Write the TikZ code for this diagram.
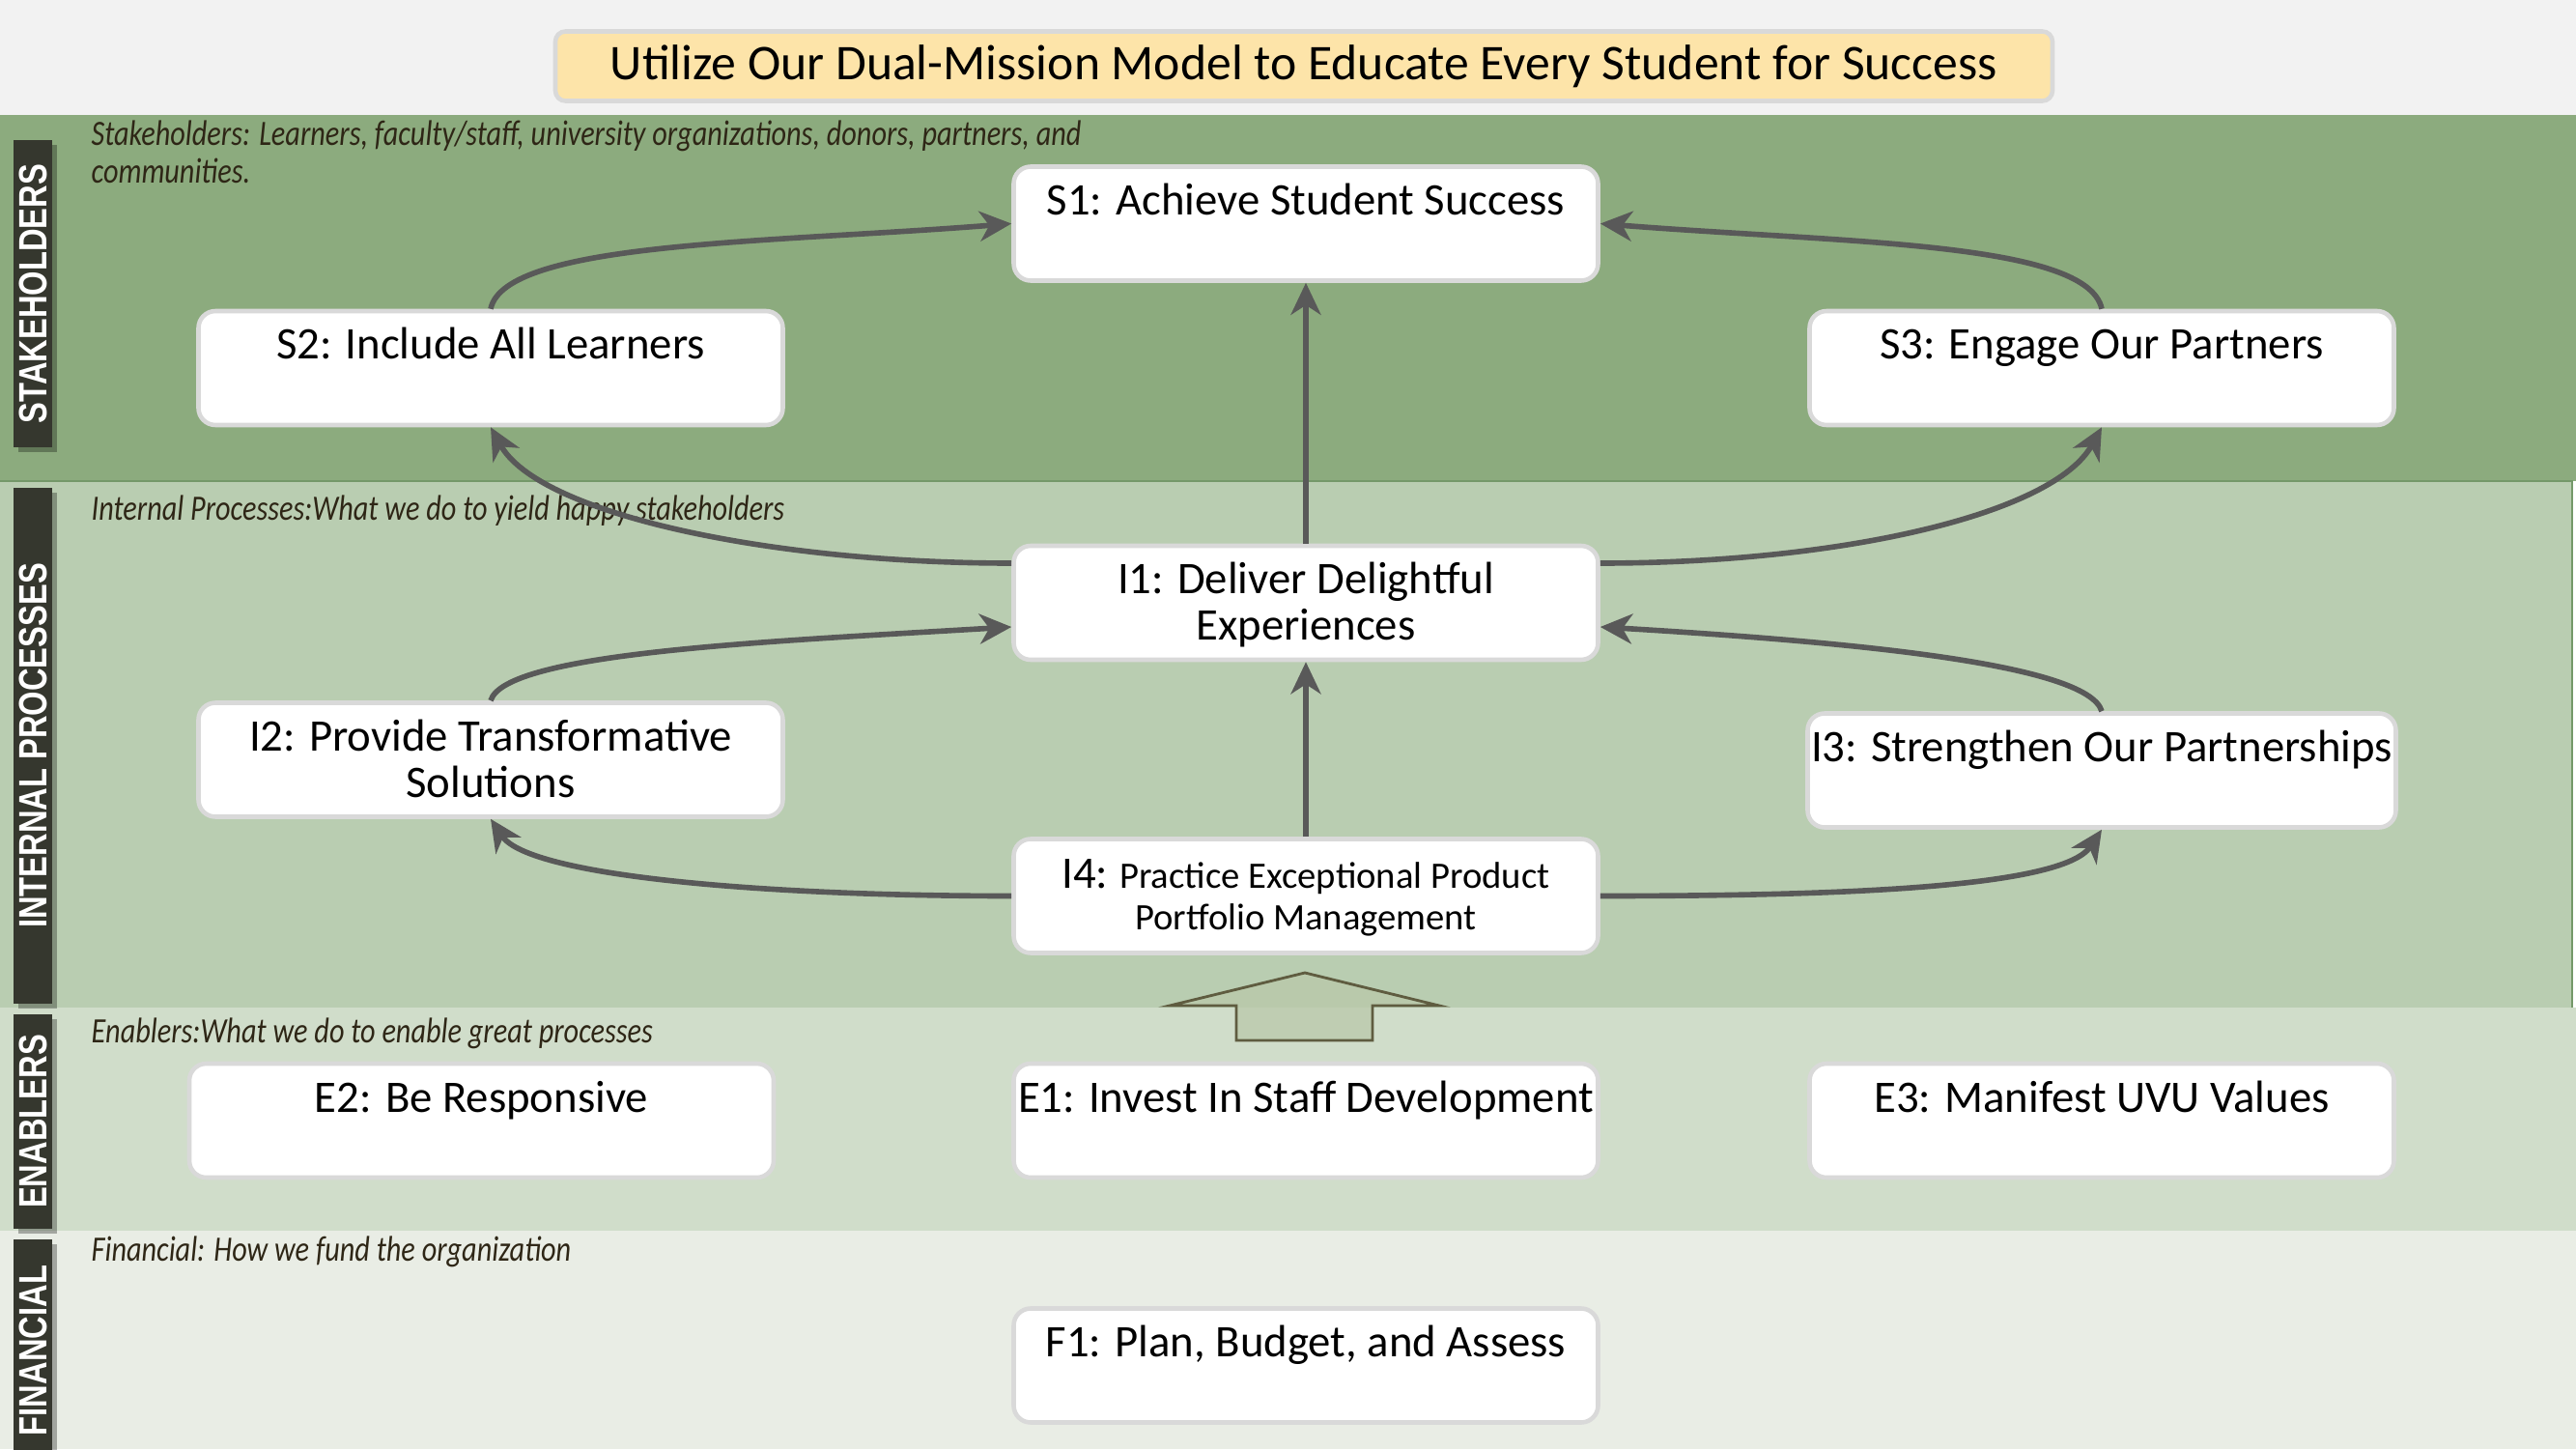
\documentclass[tikz,border=0pt]{standalone}
\usepackage{fontspec}
\setmainfont{Carlito}
\newfontfamily\barfont{Liberation Sans}
\usepackage{tikz}
\usetikzlibrary{arrows.meta,positioning,shadows}
\definecolor{pagebg}{HTML}{F2F2F2}
\definecolor{stakebg}{HTML}{8CAB7E}
\definecolor{internbg}{HTML}{B9CDB1}
\definecolor{internline}{HTML}{749869}
\definecolor{enablebg}{HTML}{D0DDCA}
\definecolor{financebg}{HTML}{E9EDE5}
\definecolor{barfill}{HTML}{35372E}
\definecolor{titlefill}{HTML}{FDE4A9}
\definecolor{boxline}{HTML}{D9D9D9}
\definecolor{linkgray}{HTML}{595959}
\definecolor{notetext}{HTML}{2E2616}
\definecolor{blockfill}{HTML}{BAC8AA}
\definecolor{blockline}{HTML}{5F5C40}
\newcommand{\lanetext}[1]{\scalebox{0.82}[1]{\begin{tabular}{@{}l@{}}#1\end{tabular}}}
\newcommand{\barlabel}[1]{\scalebox{1}[1.25]{#1}}
\tikzset{
  lanebar/.style={fill=barfill, text=white, rotate=90, inner sep=0pt, minimum height=0.40cm,
    font=\barfont\bfseries\fontsize{9.3}{11}\selectfont,
    drop shadow={shadow xshift=0.5mm, shadow yshift=-0.5mm, fill=black, opacity=0.3}},
  lanenote/.style={anchor=west, inner sep=0pt, text=notetext, font=\itshape\fontsize{10.5}{11}\selectfont},
  banner/.style={draw=boxline, line width=1.3pt, fill=titlefill, rounded corners=3pt, minimum width=15.5cm, minimum height=0.72cm, font=\fontsize{14.7}{16}\selectfont},
  goal/.style={draw=boxline, line width=1.3pt, fill=white, rounded corners=5pt, minimum width=6.05cm, minimum height=1.18cm, align=center, inner sep=1pt, font=\fontsize{13.3}{13.7}\selectfont, text height=0.35cm, text depth=0.53cm},
  goal2/.style={goal, text height=0.94cm, text depth=0.16cm},
  link/.style={-{Stealth[length=3.3mm, width=3.1mm, inset=1mm]}, line width=1.6pt, draw=linkgray},
  blockarrow/.style={fill=blockfill, fill opacity=0.75, draw=blockline, line width=0.8pt, line join=miter}
}

\begin{document}
\begin{tikzpicture}[x=1cm,y=1cm]
  \useasboundingbox (0,0) rectangle (26.67,15);
  \clip (0,0) rectangle (26.67,15);

  \fill[pagebg] (0,13.81) rectangle (26.67,15);
  \fill[stakebg] (0,10.02) rectangle (26.67,13.81);
  \filldraw[fill=internbg, draw=internline, line width=0.6pt] (-0.1,4.57) -- (-0.1,10.02) -- (26.63,10.02) -- (26.63,4.57);
  \fill[enablebg] (0,2.26) rectangle (26.67,4.57);
  \fill[financebg] (0,0) rectangle (26.67,2.26);

  \node[lanebar, minimum width=3.18cm] (barS) at (0.34,11.96) {\barlabel{STAKEHOLDERS}};
  \node[lanebar, minimum width=5.34cm] (barI) at (0.34,7.28) {\barlabel{INTERNAL PROCESSES}};
  \node[lanebar, minimum width=2.22cm] (barE) at (0.34,3.39) {\barlabel{ENABLERS}};
  \node[lanebar, minimum width=2.30cm] (barF) at (0.34,1.02) {\barlabel{FINANCIAL}};

  \node[lanenote] (noteS) at (0.94,13.375) {\lanetext{Stakeholders: Learners, faculty/staff, university organizations, donors, partners, and\\communities.}};
  \node[lanenote] (noteI) at (0.94,9.69) {\lanetext{Internal Processes:What we do to yield happy stakeholders}};
  \node[lanenote] (noteE) at (0.94,4.28) {\lanetext{Enablers:What we do to enable great processes}};
  \node[lanenote] (noteF) at (0.94,2.02) {\lanetext{Financial: How we fund the organization}};

  \node[banner] (title) at (13.50,14.315) {Utilize Our Dual-Mission Model to Educate Every Student for Success};

  \node[goal] (S1) at (13.52,12.685) {S1: Achieve Student Success};
  \node[goal] (S2) at (5.08,11.19) {S2: Include All Learners};
  \node[goal] (S3) at (21.76,11.19) {S3: Engage Our Partners};

  \node[goal2] (I1) at (13.52,8.76) {I1: Deliver Delightful\\Experiences};
  \node[goal2] (I2) at (5.08,7.135) {I2: Provide Transformative\\Solutions};
  \node[goal] (I3) at (21.76,7.025) {I3: Strengthen Our Partnerships};
  \node[goal2, text height=0.89cm, text depth=0.20cm, font=\fontsize{11}{12}\selectfont] (I4) at (13.52,5.725)
    {{\fontsize{13.3}{13.7}\selectfont I4:} Practice Exceptional Product\\Portfolio Management};

  \node[goal] (E2) at (4.985,3.40) {E2: Be Responsive};
  \node[goal] (E1) at (13.52,3.40) {E1: Invest In Staff Development};
  \node[goal] (E3) at (21.76,3.40) {E3: Manifest UVU Values};

  \node[goal] (F1) at (13.52,0.865) {F1: Plan, Budget, and Assess};

  \draw[link] (S2.north) .. controls +(0.15,0.7) and +(-2.5,-0.2) .. (S1.west);
  \draw[link] (S3.north) .. controls +(-0.15,0.7) and +(2.5,-0.2) .. (S1.east);
  \draw[link] (I1.north) -- (S1.south);
  \draw[link] ([yshift=4.1mm]I1.west) .. controls +(-2.5,0) and +(0.5,-0.9) .. (S2.south);
  \draw[link] ([yshift=4.1mm]I1.east) .. controls +(2.5,0) and +(-0.5,-0.9) .. (S3.south);
  \draw[link] (I2.north) .. controls +(0.15,0.5) and +(-2.5,-0.15) .. ([yshift=-2.5mm]I1.west);
  \draw[link] (I3.north) .. controls +(-0.15,0.5) and +(2.5,-0.15) .. ([yshift=-2.5mm]I1.east);
  \draw[link] (I4.north) -- (I1.south);
  \draw[link] (I4.west) .. controls +(-2.5,0) and +(0.4,-0.6) .. (I2.south);
  \draw[link] (I4.east) .. controls +(2.5,0) and +(-0.4,-0.6) .. (I3.south);

  \draw[blockarrow] (12.80,4.23) -- (12.80,4.59) -- (12.11,4.59) -- (13.51,4.93) -- (14.90,4.59) -- (14.21,4.59) -- (14.21,4.23) -- cycle;
\end{tikzpicture}
\end{document}
